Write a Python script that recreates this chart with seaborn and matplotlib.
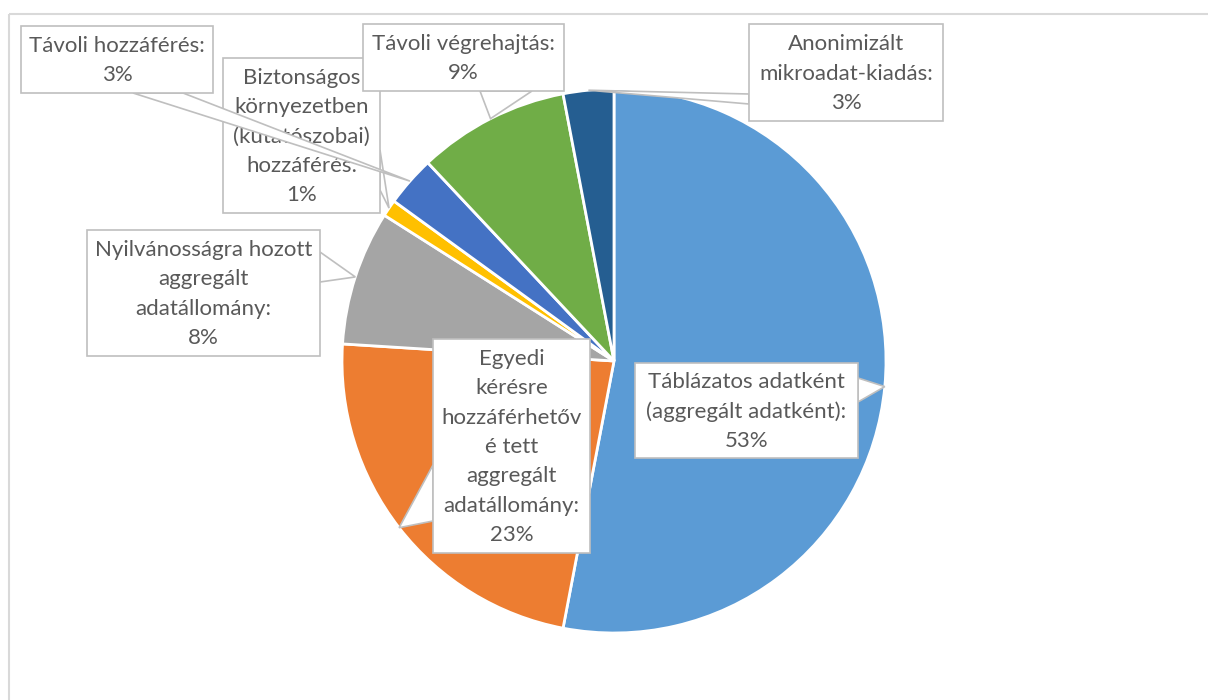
import numpy as np
import matplotlib
matplotlib.use("Agg")
import matplotlib.pyplot as plt
import seaborn as sns
from matplotlib.patches import Rectangle, Polygon

# data, clockwise from 12 o'clock
categories = [
    "Táblázatos adatként\n(aggregált adatként)",
    "Egyedi\nkérésre\nhozzáférhetőv\né tett\naggregált\nadatállomány",
    "Nyilvánosságra hozott\naggregált\nadatállomány",
    "Biztonságos\nkörnyezetben\n(kutatószobai)\nhozzáférés",
    "Távoli hozzáférés",
    "Távoli végrehajtás",
    "Anonimizált\nmikroadat-kiadás",
]
shares = [53, 23, 8, 1, 3, 9, 3]
slice_colors = ["#5B9BD5", "#ED7D31", "#A5A5A5", "#FFC000", "#4472C4", "#70AD47", "#255E91"]

# callout boxes in pixel coords (x0, y0, x1, y1), same order as categories
label_boxes = [
    (635, 363, 858, 458),
    (433, 339, 590, 553),
    (87, 230, 320, 356),
    (223, 58, 380, 213),
    (21, 26, 213, 93),
    (363, 24, 564, 91),
    (749, 24, 943, 121),
]
# where each callout pointer leaves its box: (side, centre along side, half width)
pointer_bases = [
    ("right", 390, 12),
    ("left", 493, 28),
    ("right", 267, 15),
    ("right", 170, 20),
    ("bottom", 158, 25),
    ("bottom", 506, 26),
    ("left", 99, 5),
]

sns.set_theme(style="white")
plt.rcParams["font.family"] = ["Lato", "DejaVu Sans"]

TEXT_COLOR = "#595959"
EDGE_COLOR = "#BFBFBF"

fig = plt.figure(figsize=(12.08, 7.0), dpi=100)
ax = fig.add_axes([0, 0, 1, 1])

palette = sns.color_palette(slice_colors)
wedges, _ = ax.pie(shares, colors=palette, startangle=-90, counterclock=True,
                   center=(614, 361), radius=272,
                   wedgeprops=dict(edgecolor="white", linewidth=2))

ax.set_xlim(0, 1208)
ax.set_ylim(700, 0)
ax.set_aspect("equal")
ax.axis("off")

# light chart border
ax.add_patch(Rectangle((9, 14), 1400, 900, fill=False, ec="#D9D9D9", lw=1.5, zorder=0))


def draw_callout(box, base, tip, text, z):
    x0, y0, x1, y1 = box
    side, c, hw = base
    if side == "left":
        pts = [(x0, c - hw), tip, (x0, c + hw)]
    elif side == "right":
        pts = [(x1, c - hw), tip, (x1, c + hw)]
    elif side == "top":
        pts = [(c - hw, y0), tip, (c + hw, y0)]
    else:
        pts = [(c - hw, y1), tip, (c + hw, y1)]
    ax.add_patch(Polygon(pts, closed=True, fc="white", ec=EDGE_COLOR, lw=1.2, zorder=z))
    ax.add_patch(Rectangle((x0, y0), x1 - x0, y1 - y0, fc="white",
                           ec=EDGE_COLOR, lw=1.2, zorder=z + 0.01))
    ax.text((x0 + x1) / 2, (y0 + y1) / 2 + 1, text, ha="center", va="center",
            multialignment="center", fontsize=16, color=TEXT_COLOR,
            linespacing=1.58, zorder=z + 0.02)


for i, (w, cat, val) in enumerate(zip(wedges, categories, shares)):
    mid = np.deg2rad((w.theta1 + w.theta2) / 2)
    tip = (w.center[0] + w.r * np.cos(mid), w.center[1] + w.r * np.sin(mid))
    draw_callout(label_boxes[i], pointer_bases[i], tip, f"{cat}:\n{val}%", 3 + i * 0.1)

fig.savefig("out.png", dpi=100)
